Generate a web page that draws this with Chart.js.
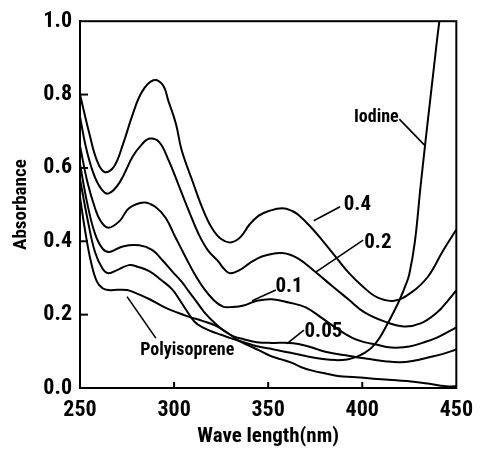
<!DOCTYPE html>
<html><head><meta charset="utf-8">
<script src="https://cdn.jsdelivr.net/npm/chart.js@4"></script>
<style>html,body{margin:0;padding:0;background:#fff}canvas{display:block}</style>
</head><body>
<canvas id="c" width="482" height="451"></canvas>
<script>
const FONT = '"Roboto Condensed", "Liberation Sans Narrow", "DejaVu Sans Condensed", sans-serif';
const xTicks = [250, 300, 350, 400, 450];
const yTicks = [0, 0.2, 0.4, 0.6, 0.8, 1.0];
const xTitle = 'Wave length(nm)';
const yTitle = 'Absorbance';

// iodine 0.4
const wl04 = [250,255,259,263,268,273,278,283,289,294,297,301,304,310,315,320,325,330,335,340,345,350,357.6,363,366,373,379,386,393,400,408,417,426,435,443,450];
const ab04 = [0.80,0.693,0.62,0.589,0.603,0.667,0.746,0.808,0.839,0.826,0.782,0.72,0.649,0.561,0.491,0.437,0.406,0.397,0.41,0.445,0.47,0.482,0.49,0.482,0.472,0.437,0.401,0.357,0.313,0.278,0.247,0.238,0.26,0.304,0.375,0.432];
// 0.2
const wl02 = [250,253,257,261,265,271,278,283,287,292,297,302.5,308,313,318,323.5,326.5,329.6,335,340,345,349,357.6,366,375,384,392.6,401,412,422,431,440,445,450];
const ab02 = [0.74,0.66,0.587,0.545,0.53,0.56,0.631,0.665,0.68,0.671,0.622,0.552,0.481,0.42,0.375,0.345,0.325,0.313,0.322,0.34,0.355,0.362,0.368,0.353,0.317,0.278,0.242,0.207,0.181,0.168,0.176,0.207,0.235,0.266];
// 0.1
const wl01 = [250,254,258,261,265,271,276,284,290,295.5,300.7,306,311,316,321,326,331,337,344,352,361,370,379,388,395,401,408,413,418,425,432,440,450];
const ab01 = [0.66,0.56,0.49,0.455,0.437,0.455,0.49,0.506,0.494,0.464,0.411,0.358,0.31,0.27,0.24,0.222,0.221,0.225,0.238,0.242,0.233,0.22,0.189,0.157,0.136,0.125,0.118,0.112,0.11,0.113,0.123,0.138,0.165];
// 0.05
const wl005 = [250,254,258,262,265.7,272.7,281.5,288.5,293.7,299,304,308,312,316,322,327,332,337,344,352,361,366,371,377,383,390,397,404,412,420,428,435,443,450];
const ab005 = [0.61,0.50,0.42,0.38,0.371,0.386,0.389,0.376,0.349,0.318,0.29,0.262,0.235,0.207,0.175,0.154,0.14,0.133,0.125,0.123,0.123,0.12,0.114,0.104,0.096,0.09,0.084,0.079,0.073,0.07,0.075,0.083,0.093,0.105];
// Iodine
const wlI = [250,254,258,262,265,270,276,281,287,293,299,303,306,311,316,320,325,330,337,344,353,362,370,379,386,392,397,401,405,409,413,417,420,423,425,428,431,434,436,438,441,444];
const abI = [0.57,0.46,0.37,0.325,0.313,0.322,0.335,0.33,0.318,0.295,0.269,0.24,0.216,0.18,0.163,0.154,0.145,0.136,0.125,0.114,0.105,0.096,0.087,0.079,0.076,0.078,0.085,0.095,0.11,0.135,0.171,0.21,0.242,0.28,0.31,0.40,0.55,0.69,0.78,0.87,1.0,1.1];
// Polyisoprene
const wlP = [250,253,256,259,262,265,270,275,280,287,295,302,308,315,322,328,334,340,345,351,357,362,368,373,380,388,395,402,410,418,426,435,441,446,450];
const abP = [0.52,0.42,0.34,0.29,0.272,0.267,0.268,0.267,0.258,0.242,0.22,0.205,0.194,0.183,0.17,0.152,0.13,0.115,0.103,0.088,0.078,0.07,0.056,0.048,0.04,0.032,0.03,0.027,0.024,0.021,0.018,0.012,0.007,0.004,0.005];

const seriesNames = ['0.4', '0.2', '0.1', '0.05', 'Iodine', 'Polyisoprene'];
const seriesX = [wl04, wl02, wl01, wl005, wlI, wlP];
const seriesY = [ab04, ab02, ab01, ab005, abI, abP];

// curve labels: text, text centre and leader line ends, in data units
const labelText = ['Iodine', '0.4', '0.2', '0.1', '0.05', 'Polyisoprene'];
const labelAt = [[407.5, 0.737], [397.4, 0.499], [408.3, 0.397], [361.1, 0.275], [379.4, 0.153], [307, 0.101]];
const leaderFrom = [[419.7, 0.733], [388.2, 0.494], [400.5, 0.403], [354.1, 0.267], [369, 0.158], [290.3, 0.136]];
const leaderTo = [[433.5, 0.66], [374.2, 0.456], [375.1, 0.315], [341.5, 0.238], [360, 0.121], [275, 0.249]];

const datasets = seriesNames.map((name, i) => ({
  label: name,
  data: seriesX[i].map((x, j) => ({x: x, y: seriesY[i][j]})),
  borderColor: '#000',
  borderWidth: 2,
  pointRadius: 0,
  fill: false,
  tension: 0.4,
  clip: 0
}));

const decorPlugin = {
  id: 'decor',
  afterDatasetsDraw(chart) {
    const ctx = chart.ctx;
    const xs = chart.scales.x, ys = chart.scales.y;
    const a = chart.chartArea;
    ctx.save();
    ctx.strokeStyle = '#000';
    ctx.lineWidth = 2;
    ctx.strokeRect(a.left, a.top, a.right - a.left, a.bottom - a.top);
    yTicks.forEach(v => {
      if (v <= 0 || v >= 1) return;
      const py = ys.getPixelForValue(v);
      ctx.beginPath(); ctx.moveTo(a.left, py); ctx.lineTo(a.left + 8, py); ctx.stroke();
    });
    xTicks.forEach(v => {
      if (v <= 250 || v >= 450) return;
      const px = xs.getPixelForValue(v);
      ctx.beginPath(); ctx.moveTo(px, a.bottom); ctx.lineTo(px, a.bottom - 6); ctx.stroke();
    });
    ctx.lineWidth = 1.6;
    ctx.fillStyle = '#000';
    ctx.textAlign = 'center';
    ctx.textBaseline = 'middle';
    labelText.forEach((t, i) => {
      ctx.font = 'bold ' + (/^[0-9.]+$/.test(t) ? 21 : 18) + 'px ' + FONT;
      ctx.fillText(t, xs.getPixelForValue(labelAt[i][0]), ys.getPixelForValue(labelAt[i][1]));
      ctx.beginPath();
      ctx.moveTo(xs.getPixelForValue(leaderFrom[i][0]), ys.getPixelForValue(leaderFrom[i][1]));
      ctx.lineTo(xs.getPixelForValue(leaderTo[i][0]), ys.getPixelForValue(leaderTo[i][1]));
      ctx.stroke();
    });
    ctx.restore();
  }
};

new Chart(document.getElementById('c'), {
  type: 'line',
  data: {datasets},
  options: {
    responsive: false,
    animation: false,
    events: [],
    layout: {padding: {top: 11, right: 21, left: 0, bottom: 0}},
    plugins: {legend: {display: false}, tooltip: {enabled: false}},
    scales: {
      x: {
        type: 'linear', min: 250, max: 450,
        afterBuildTicks: s => { s.ticks = xTicks.map(v => ({value: v})); },
        afterFit: s => { s.height = 63; },
        grid: {display: false, drawTicks: false},
        border: {display: true, color: '#000', width: 2},
        ticks: {color: '#000', padding: 9, maxRotation: 0, font: {family: FONT, size: 22, weight: 'bold'}, callback: v => String(v)},
        title: {display: true, text: xTitle, color: '#000', padding: {top: 0, bottom: 2}, font: {family: FONT, size: 21, weight: 'bold'}}
      },
      y: {
        type: 'linear', min: 0, max: 1,
        afterBuildTicks: s => { s.ticks = yTicks.map(v => ({value: v})); },
        afterFit: s => { s.width = 80; },
        grid: {display: false, drawTicks: false},
        border: {display: true, color: '#000', width: 2},
        ticks: {color: '#000', padding: 8, font: {family: FONT, size: 22, weight: 'bold'}, callback: v => Number(v).toFixed(1)},
        title: {display: true, text: yTitle, color: '#000', padding: {top: 10, bottom: 0}, font: {family: FONT, size: 19, weight: 'bold'}}
      }
    }
  },
  plugins: [decorPlugin]
});
</script>
</body></html>
